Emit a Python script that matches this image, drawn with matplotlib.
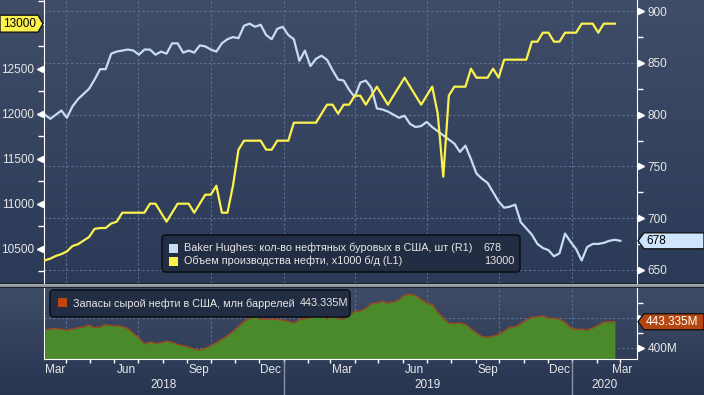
import numpy as np
import pandas as pd
import matplotlib
matplotlib.use("Agg")
import matplotlib.pyplot as plt
import matplotlib.dates as mdates
from matplotlib.colors import to_rgb
from matplotlib.patches import Polygon, FancyBboxPatch, Rectangle
from matplotlib.ticker import MultipleLocator, FixedLocator, NullFormatter
from matplotlib.transforms import Affine2D, blended_transform_factory, ScaledTranslation

plt.rcParams['font.family'] = ['Liberation Sans', 'DejaVu Sans']

# weekly data, Mar 2018 - Feb 2020
rig_count = [800, 796, 800, 804, 797, 808, 815, 820, 825, 834,
             844, 844, 859, 861, 862, 863, 862, 858, 863, 863,
             858, 861, 859, 869, 869, 860, 862, 860, 867, 866,
             863, 861, 869, 873, 875, 874, 886, 888, 885, 887,
             877, 873, 883, 885, 877, 873, 852, 862, 847, 854,
             857, 853, 843, 834, 833, 824, 817, 831, 833, 826,
             806, 805, 803, 800, 797, 799, 791, 788, 789, 793,
             788, 784, 780, 776, 772, 764, 770, 757, 743, 738,
             734, 725, 716, 710, 711, 713, 696, 690, 684, 675,
             671, 669, 663, 666, 685, 677, 670, 659, 672, 675,
             675, 676, 678, 679, 678]

production = [10370, 10390, 10420, 10440, 10470, 10530, 10550, 10590, 10630, 10720,
              10730, 10730, 10780, 10800, 10900, 10900, 10900, 10900, 10900, 11000,
              11000, 10900, 10800, 10900, 11000, 11000, 11000, 10900, 11000, 11100,
              11100, 11200, 10900, 10900, 11200, 11600, 11700, 11700, 11700, 11700,
              11600, 11600, 11700, 11700, 11700, 11900, 11900, 11900, 11900, 11900,
              12000, 12100, 12100, 12000, 12100, 12100, 12200, 12200, 12100, 12200,
              12300, 12200, 12100, 12200, 12300, 12400, 12300, 12200, 12100, 12200,
              12300, 12000, 11300, 12200, 12300, 12300, 12300, 12500, 12400, 12400,
              12400, 12500, 12400, 12600, 12600, 12600, 12600, 12600, 12800, 12800,
              12900, 12900, 12800, 12800, 12900, 12900, 12900, 13000, 13000, 13000,
              12900, 13000, 13000, 13000]

stocks = [429.5, 431.5, 432.0, 430.5, 429.5, 431.0, 433.3, 434.5, 437.5, 433.5,
          434.5, 438.5, 436.7, 436.5, 435.0, 432.0, 424.0, 416.5, 406.5, 410.0,
          407.0, 408.5, 411.0, 409.0, 405.5, 403.5, 401.0, 397.5, 396.2, 399.5,
          403.5, 408.5, 414.5, 420.0, 427.5, 435.5, 444.0, 449.0, 451.7, 447.3,
          447.3, 447.3, 447.3, 446.0, 444.0, 441.0, 447.0, 448.5, 450.0, 452.0,
          454.5, 447.8, 454.0, 448.0, 448.0, 454.0, 461.0, 461.5, 465.5, 473.5,
          474.0, 477.5, 474.5, 476.5, 480.0, 487.5, 489.0, 487.0, 480.5, 474.0,
          472.0, 459.0, 449.0, 441.0, 440.2, 441.0, 439.0, 431.5, 424.5, 418.5,
          417.8, 419.5, 422.5, 427.5, 434.5, 435.0, 440.0, 446.5, 450.5, 451.8,
          453.0, 449.0, 449.0, 447.5, 442.0, 433.0, 431.0, 430.5, 429.5, 433.0,
          437.5, 443.0, 443.3, 443.335]

dates = pd.date_range('2018-03-05', periods=len(rig_count), freq='7D')
month_labels = ['Mar', 'Jun', 'Sep', 'Dec', 'Mar', 'Jun', 'Sep', 'Dec', 'Mar']
month_starts = pd.date_range('2018-03-01', periods=len(month_labels), freq='3MS')
years = ['2018', '2019', '2020']

rig_label = 'Baker Hughes: кол-во нефтяных буровых в США, шт (R1)'
prod_label = 'Объем производства нефти, x1000 б/д (L1)'
stock_label = 'Запасы сырой нефти в США, млн баррелей'

W, H = 704, 395
BLUE = '#c6dbf4'
YELLOW = '#fbf24e'
GREEN = '#4a8a2b'
RUST = '#b4460f'
TXT = '#e8e8e8'
GRID = '#5f7090'

fig = plt.figure(figsize=(W / 100, H / 100), dpi=100)
px = Affine2D().scale(1 / W, -1 / H).translate(0, 1) + fig.transFigure


def px_axes(x0, y0, x1, y1):
    return fig.add_axes([x0 / W, 1 - y1 / H, (x1 - x0) / W, (y1 - y0) / H])


def ramp(c1, c2, n):
    a, b = np.array(to_rgb(c1)), np.array(to_rgb(c2))
    t = np.linspace(0, 1, n)[:, None]
    return a + (b - a) * t


# background: two gradient panels with a grey separator
bg = np.vstack([ramp('#404d68', '#2b3a57', 283),
                ramp('#1c2230', '#1c2230', 1),
                ramp('#a3a7ae', '#8d9199', 3),
                ramp('#1c2230', '#1c2230', 1),
                ramp('#3f4c67', '#283551', H - 288)])
bgax = fig.add_axes([0, 0, 1, 1])
bgax.imshow(bg[:, None, :], aspect='auto', extent=(0, 1, 0, 1))
bgax.axis('off')
bgax.set_zorder(-1)

xmin, xmax = pd.Timestamp('2018-03-04'), pd.Timestamp('2020-03-23')
quarters = pd.date_range('2018-04-01', '2020-01-01', freq='QS')

# ---- top panel: rigs (right) + production (left)
ax = px_axes(44, 0, 637, 283)
ax2 = ax.twinx()
ax.yaxis.tick_right()
ax2.yaxis.tick_left()

ax.set_facecolor('none')
ax.set_xlim(xmin, xmax)
ax.set_ylim(637.2, 910.9)
ax.plot(dates, rig_count, color=BLUE, lw=1.6, solid_joinstyle='round')
for q in quarters:
    ax.axvline(q, color=GRID, lw=0.8, ls=(0, (2, 2)), zorder=0)
ax.yaxis.set_major_locator(MultipleLocator(50))
ax.yaxis.set_minor_locator(MultipleLocator(25))
ax.grid(axis='y', color=GRID, lw=0.8, ls=(0, (2, 2)))
ax.tick_params(axis='y', which='major', length=0, pad=7.5, labelsize=8.5, labelcolor=TXT)
ax.tick_params(axis='y', which='minor', length=4, color='white', width=1)
ax.tick_params(axis='x', bottom=False, labelbottom=False)

ax2.set_ylim(10119, 13263)
ax2.plot(dates[:len(production)], production, color=YELLOW, lw=1.6, solid_joinstyle='round')
ax2.yaxis.set_major_locator(FixedLocator([10500, 11000, 11500, 12000, 12500]))
ax2.yaxis.set_minor_locator(MultipleLocator(250))
ax2.tick_params(axis='y', which='major', length=0, pad=7, labelsize=8.5, labelcolor=TXT)
ax2.tick_params(axis='y', which='minor', length=4, color='white', width=1)
ax2.tick_params(axis='x', bottom=False, labelbottom=False)

for a in (ax, ax2):
    for s in a.spines.values():
        s.set_visible(False)
ax.spines['left'].set_visible(True)
ax.spines['right'].set_visible(True)
ax.spines['left'].set_color('white')
ax.spines['right'].set_color('white')

# ---- bottom panel: crude stocks
sdates = dates[:len(stocks)]
axb = px_axes(44, 288, 637, 359)
axb.set_facecolor('none')
axb.set_xlim(xmin, xmax)
axb.set_ylim(381.2, 499.5)
axb.fill_between(sdates, stocks, 381.2, color=GREEN, lw=0)
axb.plot(sdates, stocks, color='#9c4a1f', lw=1)
for q in quarters:
    axb.axvline(q, color=GRID, lw=0.8, ls=(0, (2, 2)), zorder=0)
for v in (400, 450):
    axb.axhline(v, color=GRID, lw=0.8, ls=(0, (2, 2)), zorder=0)
axb.yaxis.tick_right()
axb.yaxis.set_major_locator(FixedLocator([400]))
axb.yaxis.set_major_formatter(lambda v, p: f'{v:.0f}M')
axb.yaxis.set_minor_locator(FixedLocator([425, 475]))
axb.tick_params(axis='y', which='major', length=0, pad=7.5, labelsize=8.5, labelcolor=TXT)
axb.tick_params(axis='y', which='minor', length=4, color='white', width=1)
axb.xaxis.set_major_locator(mdates.MonthLocator())
axb.xaxis.set_major_formatter(NullFormatter())
axb.tick_params(axis='x', length=3, color='white', width=1)
axb.spines['top'].set_visible(False)
for s in ('left', 'right', 'bottom'):
    axb.spines[s].set_color('white')

# month and year labels under the axis
tb = blended_transform_factory(axb.transData, axb.transAxes)
lo, hi = xmin + pd.Timedelta(days=14), xmax - pd.Timedelta(days=19)
for m, lab in zip(month_starts, month_labels):
    c = min(max(m + pd.Timedelta(days=15), lo), hi)
    axb.text(c, -0.16, lab, transform=tb, ha='center', va='center', fontsize=8.5, color=TXT)
bounds = [xmin, pd.Timestamp('2019-01-01'), pd.Timestamp('2020-01-01'), xmax]
for i, y in enumerate(years):
    c = bounds[i] + (bounds[i + 1] - bounds[i]) / 2
    axb.text(c, -0.37, y, transform=tb, ha='center', va='center', fontsize=8.5, color=TXT)
for b in bounds[1:3]:
    axb.plot([b, b], [-0.03, -0.52], transform=tb, color='#8a93a5', lw=1, clip_on=False)


# tick arrowheads
def arrows(a, vals, side):
    off = ScaledTranslation((4 if side == 'right' else -4) / 100, 0, fig.dpi_scale_trans)
    t = blended_transform_factory(a.transAxes, a.transData) + off
    a.plot([1 if side == 'right' else 0] * len(vals), vals, ls='none',
           marker='>' if side == 'right' else '<', ms=4, color='white',
           mec='white', transform=t, clip_on=False)


arrows(ax, [650, 700, 750, 800, 850, 900], 'right')
arrows(ax2, [10500, 11000, 11500, 12000, 12500], 'left')
arrows(axb, [400, 450], 'right')


def to_px(v, lo_v, hi_v, top, bot):
    return top + (hi_v - v) / (hi_v - lo_v) * (bot - top)


def tag_right(y, text, fc, tc):
    poly = [(638, y), (644, y - 8), (704, y - 8), (704, y + 8), (644, y + 8)]
    fig.add_artist(Polygon(poly, closed=True, fc=fc, ec='#151515', lw=1, transform=px))
    fig.text(646 / W, 1 - y / H, text, ha='left', va='center', fontsize=8.5, color=tc)


# value tags
yl = to_px(production[-1], 10119, 13263, 0, 283)
poly = [(0, yl - 8.5), (38, yl - 8.5), (43, yl), (38, yl + 8.5), (0, yl + 8.5)]
fig.add_artist(Polygon(poly, closed=True, fc=YELLOW, ec='#151515', lw=1, transform=px))
fig.text(20 / W, 1 - yl / H, f'{production[-1]}', ha='center', va='center', fontsize=8.5, color='black')
tag_right(to_px(rig_count[-1], 637.2, 910.9, 0, 283), f'{rig_count[-1]}', '#cfe5fb', 'black')
tag_right(to_px(stocks[-1], 381.2, 499.5, 288, 359), f'{stocks[-1]:.3f}M', RUST, 'white')

# legends
fig.add_artist(FancyBboxPatch((162, 235), 358, 37, boxstyle='round,pad=0,rounding_size=4',
                              fc='#222c42', ec='#0c1019', lw=1.2, transform=px))
for y, col, lab, val in [(248, BLUE, rig_label, rig_count[-1]),
                         (261, YELLOW, prod_label, production[-1])]:
    fig.add_artist(Rectangle((169, y - 4.5), 9, 9, fc=col, ec='none', transform=px))
    fig.text(184 / W, 1 - y / H, lab, ha='left', va='center', fontsize=7.8, color=TXT)
    fig.text(484 / W, 1 - y / H, f'{val}', ha='left', va='center', fontsize=7.8, color=TXT)

fig.add_artist(FancyBboxPatch((50, 290), 300, 27, boxstyle='round,pad=0,rounding_size=4',
                              fc='#222c42', ec='#0c1019', lw=1.2, transform=px))
fig.add_artist(Rectangle((58, 298), 9, 9, fc='#c0440f', ec='none', transform=px))
fig.text(73 / W, 1 - 303.5 / H, stock_label, ha='left', va='center', fontsize=7.8, color=TXT)
fig.text(300 / W, 1 - 303.5 / H, f'{stocks[-1]:.3f}M', ha='left', va='center', fontsize=7.8, color=TXT)

fig.savefig('out.png', dpi=100)
